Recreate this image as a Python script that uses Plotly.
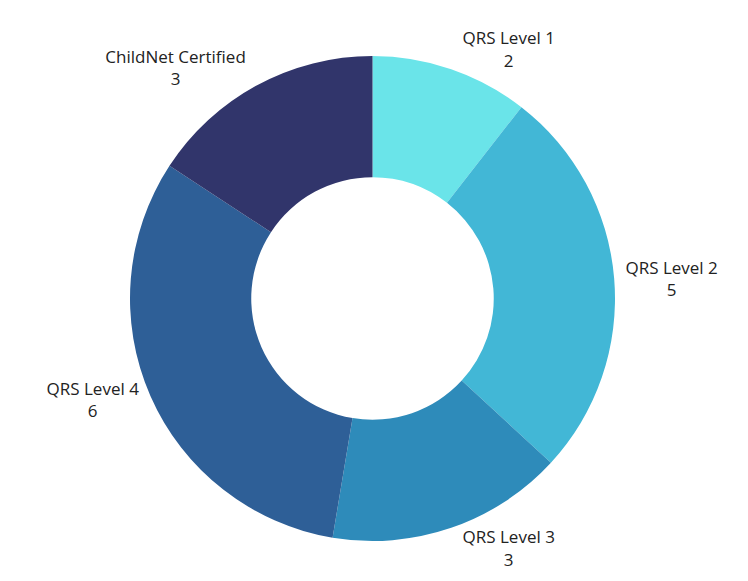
import plotly.graph_objects as go

labels = ['QRS Level 1', 'QRS Level 2', 'QRS Level 3', 'QRS Level 4', 'ChildNet Certified']
values = [2, 5, 3, 6, 3]
colors = ['#6ae4e9', '#42b7d6', '#2e8bba', '#2e5f97', '#31356b']

fig = go.Figure(go.Pie(
    labels=labels,
    values=values,
    hole=0.5,
    sort=False,
    direction='clockwise',
    rotation=0,
    marker=dict(colors=colors, line=dict(width=0)),
    texttemplate='%{label}<br>%{value}',
    textposition='outside',
    textfont=dict(family='Open Sans, sans-serif', size=17, color='#222222'),
    showlegend=False,
))

fig.update_layout(
    width=748, height=581,
    margin=dict(l=0, r=20, t=0, b=8),
    paper_bgcolor='white',
)

fig.write_html('out.html')
